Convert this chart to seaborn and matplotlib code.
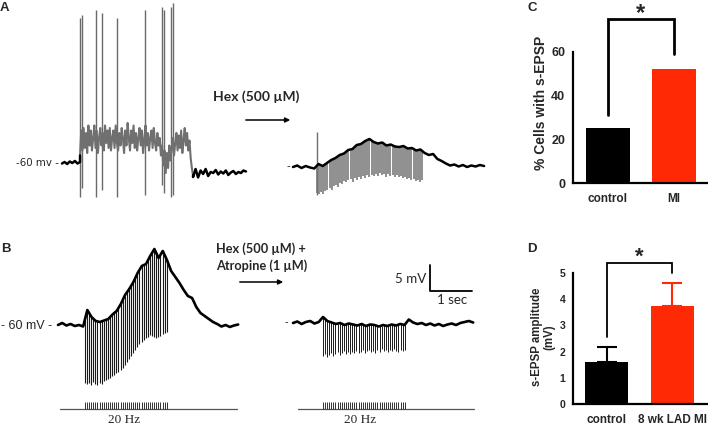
import numpy as np
import matplotlib
matplotlib.use("Agg")
import matplotlib.pyplot as plt
import matplotlib.patches as mpatches
from matplotlib.lines import Line2D
import seaborn as sns

# ---------------- data ----------------
STIM_HZ = 20

# Panel A, control trace (mV). segment boundaries in s
A1_seg_t = [0.0, 0.43, 3.12, 4.38]
A1_pre = [-60.1, -59.8, -60.2, -59.7, -60.0, -59.6, -60.1, -59.8]
A1_depol = [-58.5, -53.5, -57.5, -53, -57, -54, -58, -52.5, -56.5, -53.5, -57.5, -55, -52.5,
            -57, -53.5, -58, -55, -53, -56.5, -54, -57.5, -52.5, -56, -53.5, -57,
            -53, -57.5, -55, -53.5, -57, -52.5, -56, -57.5, -54, -56.5, -53, -55, -58,
            -53.5, -56.5, -52, -55, -57.5, -53.5, -56, -52.5, -57, -54, -57.5, -55, -53,
            -56.5, -53.5, -58, -55.5, -52.5, -56.5, -54, -57.5, -55, -53.5, -57, -53, -56,
            -57.5, -54, -56.5, -55, -58.5, -56.5, -60.5, -57.5, -62, -58, -61, -56.5, -59.5,
            -57, -55, -58.5, -56, -54, -57.5, -54.5, -57, -53.5, -58, -55.5, -53, -56.5,
            -54, -57.5, -55.5, -59, -61, -62.5]
A1_post = [-62.8, -61.2, -62.9, -61.5, -62.2, -61.2, -62.6, -61.8, -62.0, -61.4, -62.3,
           -61.7, -62.1, -61.5, -62.4, -61.9, -61.6, -62.2, -61.8, -62.0, -61.5, -61.7]
A1_spike_t = [0.43, 0.48, 0.81, 0.95, 1.31, 1.98, 2.38, 2.43, 2.60, 2.64]
A1_spike_peak = [-31.0, -30.4, -29.4, -30.0, -31.0, -29.4, -28.8, -29.5, -28.8, -28.0]
A1_spike_trough = [-66.8, -65.0, -66.8, -65.5, -66.8, -66.5, -64.5, -66.0, -66.8, -66.5]

# Panel A, Hex trace
A2_dur = 4.55
A2_onset = 0.57
A2_onset_peak = -52.9
A2_env = [-60.0, -59.7, -60.2, -59.8, -60.1, -60.3, -59.4, -59.8, -59.2, -58.6, -58.2,
          -57.6, -57.3, -56.6, -56.4, -55.6, -55.4, -54.8, -54.4, -55.0, -55.3, -55.1,
          -55.7, -55.5, -55.9, -56.0, -55.8, -56.3, -56.2, -56.7, -56.5, -57.2, -57.6,
          -57.4, -58.4, -58.8, -59.3, -59.7, -59.5, -59.9, -59.6, -60.0, -59.7, -59.9,
          -59.6, -59.8]
A2_pulse_bottom = [-65.2, -65.4, -65.0, -65.3, -64.8, -64.6, -64.2, -64.5, -63.8, -63.6,
                   -63.9, -63.2, -63.4, -62.8, -63.0, -62.6, -62.4, -62.9, -62.2, -62.5,
                   -62.0, -62.3, -61.8, -62.1, -61.6, -61.9, -61.5, -61.8, -61.3, -61.7,
                   -61.2, -61.6, -61.4, -61.9, -61.3, -61.7, -61.5, -61.9, -61.6, -62.0,
                   -61.8, -62.2, -61.9, -62.4, -62.1, -62.6, -62.3, -62.8, -62.5, -62.9,
                   -62.6]

# Panel B, control trace with 20 Hz stimulation
B1_dur = 4.29
B1_onset = 0.64
B1_env = [-60.0, -59.6, -60.1, -59.8, -60.2, -60.0, -60.3, -57.0, -58.4, -59.2, -59.4,
          -59.1, -58.8, -57.9, -57.2, -55.8, -54.0, -52.8, -51.4, -49.6, -48.2, -47.8,
          -46.2, -44.8, -46.6, -45.2, -47.0, -49.2, -50.4, -51.6, -53.0, -54.2, -54.6,
          -56.4, -57.6, -58.2, -58.8, -59.4, -59.8, -60.3, -60.0, -60.4, -60.1, -59.9]
B1_pulse_bottom = [-71.6, -71.8, -71.6, -72.0, -71.4, -71.8, -72.0, -71.6, -71.8, -71.2,
                   -71.0, -70.8, -70.6, -70.2, -70.0, -69.6, -69.4, -69.0, -68.6, -68.0,
                   -67.4, -66.8, -66.2, -65.6, -65.0, -64.4, -63.8, -63.4, -63.0, -62.6,
                   -62.4, -62.0, -62.2, -62.4, -62.6, -62.4, -62.2, -61.8, -61.6, -61.4]

# Panel B, Hex + atropine trace
B2_dur = 4.29
B2_onset = 0.71
B2_env = [-60.0, -59.7, -60.2, -59.8, -59.6, -60.1, -59.8, -58.8, -59.6, -59.9, -60.2,
          -60.0, -60.4, -60.1, -60.3, -60.5, -60.2, -60.6, -60.3, -60.4, -60.7, -60.4,
          -60.6, -60.3, -60.5, -60.2, -60.4, -59.3, -59.9, -60.2, -60.0, -60.4, -60.1,
          -60.5, -60.2, -60.6, -60.3, -60.1, -60.4, -60.0, -59.8, -59.6, -59.9]
B2_pulse_bottom = [-66.6, -66.2, -66.8, -66.4, -66.0, -66.5, -66.2, -65.8, -66.3, -66.0,
                   -65.6, -66.1, -65.8, -66.2, -65.7, -65.9, -65.5, -66.0, -65.7, -65.4,
                   -65.9, -65.6, -65.3, -65.8, -65.5, -65.9, -65.4, -65.7, -65.2, -65.6,
                   -65.4, -65.8, -65.3, -65.6, -65.2, -65.5, -65.8, -65.4, -65.6, -65.3]

# Panel C
C_groups = ["control", "MI"]
C_values = [25, 52]
C_yticks = [0, 20, 40, 60]
# Panel D
D_groups = ["control", "8 wk LAD MI"]
D_values = [1.6, 3.75]
D_sem = [0.58, 0.85]
D_yticks = [0, 1, 2, 3, 4, 5]

BLACK = "#000000"
RED = "#FF2A05"

# ---------------- figure ----------------
sns.set_style("white")
plt.rcParams["font.family"] = ["Liberation Sans", "DejaVu Sans"]

W, H = 708, 426
fig = plt.figure(figsize=(W / 100, H / 100), dpi=100)
fig.patch.set_facecolor("white")

PX_S, PX_MV = 42.0, 5.0   # pixel per second / per mV


def fx(px):
    return px / W


def fy(py):
    return 1 - py / H


def trace_axes(x0, x1, y0, y1, px_left, px_base):
    ax = fig.add_axes([x0 / W, 1 - y1 / H, (x1 - x0) / W, (y1 - y0) / H])
    ax.set_xlim((x0 - px_left) / PX_S, (x1 - px_left) / PX_S)
    ax.set_ylim(-60 + (px_base - y1) / PX_MV, -60 + (px_base - y0) / PX_MV)
    ax.axis("off")
    vy = lambda py: -60 + (px_base - py) / PX_MV
    tx = lambda px: (px - px_left) / PX_S
    return ax, tx, vy


def line(ax, t, v, color, lw, z=3):
    sns.lineplot(x=t, y=v, ax=ax, color=color, lw=lw, estimator=None,
                 sort=False, zorder=z)


# ---- A1 ----
ax, tx, vy = trace_axes(55, 250, 0, 205, 62, 163)
t_pre = np.linspace(A1_seg_t[0], A1_seg_t[1], len(A1_pre))
t_dep = np.linspace(A1_seg_t[1], A1_seg_t[2], len(A1_depol))
t_post = np.linspace(A1_seg_t[2], A1_seg_t[3], len(A1_post))
ax.vlines(A1_spike_t, A1_spike_trough, A1_spike_peak, color="#6a6a6a", lw=1.0, zorder=2)
line(ax, t_dep, A1_depol, "#707070", 1.5)
line(ax, np.r_[t_pre, t_dep[0]], A1_pre + [A1_depol[0]], BLACK, 1.8)
line(ax, np.r_[t_dep[-1], t_post], [A1_depol[-1]] + A1_post, BLACK, 1.8)

# ---- A2 ----
ax, tx, vy = trace_axes(285, 490, 80, 205, 293, 167)
t_env = np.linspace(0, A2_dur, len(A2_env))
pt = A2_onset + np.arange(len(A2_pulse_bottom)) / STIM_HZ
ax.vlines(pt, A2_pulse_bottom, np.interp(pt, t_env, A2_env), color="#8e8e8e", lw=1.4, zorder=2)
ax.vlines([A2_onset], [A2_pulse_bottom[0] - 0.4], [A2_onset_peak], color="#707070", lw=1.0, zorder=2)
line(ax, t_env, A2_env, BLACK, 1.8)

# ---- B1 ----
ax, tx, vy = trace_axes(50, 245, 230, 426, 58, 325)
t_env = np.linspace(0, B1_dur, len(B1_env))
pt = B1_onset + np.arange(len(B1_pulse_bottom)) / STIM_HZ
ax.vlines(pt, B1_pulse_bottom, np.interp(pt, t_env, B1_env), color="#1a1a1a", lw=0.8, zorder=2)
line(ax, t_env, B1_env, BLACK, 1.9)
ax.plot([tx(60), tx(237)], [vy(409), vy(409)], color="#555555", lw=0.9)
ax.vlines(pt, vy(409), vy(402), color="#333333", lw=0.7)

# ---- B2 ----
ax, tx, vy = trace_axes(285, 480, 230, 426, 293, 323)
t_env = np.linspace(0, B2_dur, len(B2_env))
pt = B2_onset + np.arange(len(B2_pulse_bottom)) / STIM_HZ
ax.vlines(pt, B2_pulse_bottom, np.interp(pt, t_env, B2_env), color="#1a1a1a", lw=0.7, zorder=2)
line(ax, t_env, B2_env, BLACK, 1.9)
ax.plot([tx(298), tx(474)], [vy(409), vy(409)], color="#555555", lw=0.9)
ax.vlines(pt, vy(409), vy(402), color="#333333", lw=0.7)

# ---- annotations panel A/B ----
lbl = dict(fontsize=9.5, fontweight="bold", ha="left", va="top", family=["Liberation Sans"])
fig.text(fx(0), fy(2), "A", **lbl)
fig.text(fx(1), fy(243), "B", **lbl)
fig.text(fx(527), fy(2), "C", **lbl)
fig.text(fx(527), fy(243), "D", **lbl)

fig.text(fx(59), fy(163), "-60 mv -", ha="right", va="center", fontsize=7.4,
         family=["DejaVu Sans"])
fig.text(fx(52), fy(326), "- 60 mV -", ha="right", va="center", fontsize=9,
         family=["Liberation Sans"])
fig.text(fx(290), fy(166), "-", ha="right", va="center", fontsize=7, family=["DejaVu Sans"])
fig.text(fx(288), fy(322), "-", ha="right", va="center", fontsize=7, family=["DejaVu Sans"])

calib = ["Lato", "DejaVu Sans"]
fig.text(fx(213), fy(97), "Hex (500 \u00b5M)", ha="left", va="center", fontsize=10,
         fontweight="bold", family=calib)
fig.text(fx(216), fy(249), "Hex (500 \u00b5M) +", ha="left", va="center", fontsize=9.2,
         fontweight="bold", family=calib)
fig.text(fx(216), fy(266), "Atropine (1 \u00b5M)", ha="left", va="center", fontsize=9.2,
         fontweight="bold", family=calib)
for (x0, x1, y) in [(243, 293, 120), (237, 286, 282)]:
    fig.add_artist(mpatches.FancyArrowPatch((fx(x0), fy(y)), (fx(x1), fy(y)),
                                            transform=fig.transFigure, arrowstyle="-|>",
                                            mutation_scale=7, lw=1.1, color="black"))

# scale bar
fig.add_artist(Line2D([fx(430), fx(430), fx(472)], [fy(265), fy(291), fy(291)],
                      transform=fig.transFigure, color="black", lw=1.3))
fig.text(fx(426), fy(279), "5 mV", ha="right", va="center", fontsize=9.6, family=calib)
fig.text(fx(452), fy(300), "1 sec", ha="center", va="center", fontsize=9.6, family=calib)

serif = ["Liberation Serif", "DejaVu Serif"]
fig.text(fx(124), fy(420), "20 Hz", ha="center", va="center", fontsize=9.5, family=serif)
fig.text(fx(360), fy(420), "20 Hz", ha="center", va="center", fontsize=9.5, family=serif)


# ---------------- bar panels ----------------
def bar_panel(rect_px, groups, values, yticks, ylim, xlim, width, tick_fs, x_fs):
    x0, y0, x1, y1 = rect_px
    ax = fig.add_axes([x0 / W, 1 - y1 / H, (x1 - x0) / W, (y1 - y0) / H])
    sns.barplot(x=groups, y=values, hue=groups, palette=[BLACK, RED], legend=False,
                saturation=1, width=width, ax=ax, linewidth=0, zorder=2)
    ax.set_xlim(*xlim)
    ax.set_ylim(*ylim)
    ax.set_yticks(yticks)
    ax.set_xlabel("")
    ax.set_ylabel("")
    sns.despine(ax=ax)
    for s in ["left", "bottom"]:
        ax.spines[s].set_linewidth(1.6)
        ax.spines[s].set_color("black")
    ax.tick_params(axis="both", direction="out", length=4, width=1.5, color="black",
                   pad=1.5)
    ax.tick_params(axis="y", labelsize=tick_fs)
    ax.tick_params(axis="x", labelsize=x_fs, pad=3)
    for t in ax.get_xticklabels() + ax.get_yticklabels():
        t.set_fontweight("bold")
    ax.patch.set_alpha(0)
    return ax


axC = bar_panel((573, 52, 707, 183), C_groups, C_values, C_yticks, (0, 60),
                (-0.53, 1.5), 0.667, 9, 8.5)
axC.plot([0, 0, 1, 1], [31, 75, 75, 59], color="black", lw=2.0, clip_on=False,
         solid_joinstyle="miter")
axC.text(0.5, 72.5, "*", ha="center", va="bottom", fontsize=17, fontweight="bold",
         clip_on=False)
fig.text(fx(541), fy(103), "% Cells with s-EPSP", rotation=90, ha="center", va="center",
         fontsize=10, fontweight="bold")

axD = bar_panel((573, 273, 707, 404), D_groups, D_values, D_yticks, (0, 5),
                (-0.51, 1.53), 0.66, 7.5, 8.5)
for i, c in enumerate([BLACK, RED]):
    axD.errorbar([i], [D_values[i]], yerr=[[0], [D_sem[i]]], color=c, lw=1.5,
                 capsize=7.5, capthick=1.5, zorder=3)
axD.plot([0, 0, 1, 1], [2.56, 5.38, 5.38, 5.0], color="black", lw=1.3, clip_on=False,
         solid_joinstyle="miter")
axD.text(0.5, 5.22, "*", ha="center", va="bottom", fontsize=16, fontweight="bold",
         clip_on=False)
fig.text(fx(543), fy(337), "s-EPSP amplitude\n(mV)", rotation=90, ha="center",
         va="center", fontsize=8.3, fontweight="bold", multialignment="center",
         linespacing=1.1)

fig.savefig("out.png", dpi=100, facecolor="white")
